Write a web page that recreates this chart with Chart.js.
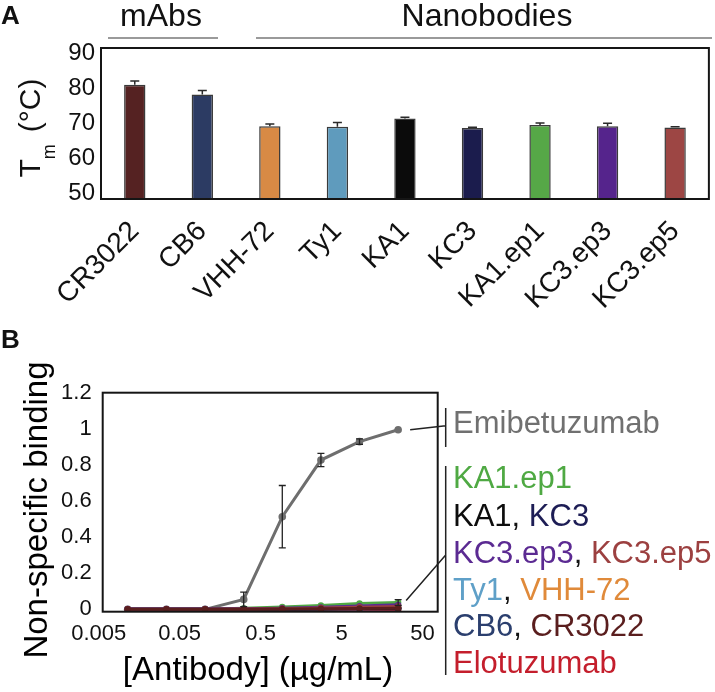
<!DOCTYPE html>
<html>
<head>
<meta charset="utf-8">
<script src="https://cdn.jsdelivr.net/npm/chart.js@4.4.1/dist/chart.umd.min.js"></script>
<style>
  html, body { margin: 0; padding: 0; background: #fff; }
  body { width: 715px; height: 692px; position: relative; overflow: hidden;
         font-family: "Liberation Sans", Arial, sans-serif; color: #111; }
  canvas { position: absolute; left: 0; }
  #chartA { top: 0; }
  #chartB { top: 320px; }
  .txt { position: absolute; white-space: nowrap; line-height: 1; }
  .rule { position: absolute; height: 2px; background: #9a9a9a; }
  .panel { font-weight: bold; font-size: 26px; left: 1px; }
  .group { font-size: 32px; transform: translateX(-50%); }
  .leg { font-size: 31px; left: 453px; }
</style>
</head>
<body>
<canvas id="chartA" width="715" height="320"></canvas>
<canvas id="chartB" width="715" height="372"></canvas>

<div class="txt panel" style="top:2px">A</div>
<div class="txt panel" style="top:326px">B</div>

<div class="txt group" style="left:161px; top:-1px">mAbs</div>
<div class="txt group" style="left:487px; top:-1px">Nanobodies</div>
<div class="rule" style="left:108px; top:37px; width:110px"></div>
<div class="rule" style="left:256px; top:37px; width:456px"></div>

<div class="txt" style="left:30px; top:128px; font-size:30px; transform: translate(-50%,-50%) rotate(-90deg)">T<span style="font-size:18px; position:relative; top:15px">m</span><span style="margin-left:12px">(°C)</span></div>

<div class="txt" style="left:35px; top:510px; font-size:33px; color:#000; transform: translate(-50%,-50%) rotate(-90deg)">Non-specific binding</div>
<div class="txt" style="left:258px; top:652px; font-size:33px; color:#000; transform: translateX(-50%)">[Antibody] (µg/mL)</div>

<div class="txt leg" style="top:407px; color:#707070">Emibetuzumab</div>
<div class="txt leg" style="top:462px"><span style="color:#4fa943">KA1.ep1</span></div>
<div class="txt leg" style="top:500px"><span style="color:#0d0d0d">KA1</span>, <span style="color:#1d1d55">KC3</span></div>
<div class="txt leg" style="top:537px"><span style="color:#5b2a92">KC3.ep3</span>, <span style="color:#9c4040">KC3.ep5</span></div>
<div class="txt leg" style="top:574px"><span style="color:#5fa0c8">Ty1</span>, <span style="color:#e08a3a">VHH-72</span></div>
<div class="txt leg" style="top:610px"><span style="color:#2b3f6e">CB6</span>, <span style="color:#5a1e1e">CR3022</span></div>
<div class="txt leg" style="top:647px; color:#c41e2c">Elotuzumab</div>

<script>
// ---- panel A: melting temperatures ----
const bodies = ['CR3022', 'CB6', 'VHH-72', 'Ty1', 'KA1', 'KC3', 'KA1.ep1', 'KC3.ep3', 'KC3.ep5'];
const tmValues = [80.9, 78.1, 69.05, 68.9, 71.3, 68.6, 69.4, 69.1, 68.7];
const tmErrors = [1.1, 1.2, 0.65, 1.2, 0.3, 0.2, 0.6, 0.8, 0.2];
const barColors = ['#552222', '#2c3b63', '#d88a45', '#5f9bbd', '#0b0b0b', '#1b1c4d', '#56a847', '#55248c', '#9d4644'];
const tmTicks = [50, 60, 70, 80, 90];

// ---- panel B: non-specific binding ----
const conc = [0.0114, 0.0343, 0.103, 0.309, 0.926, 2.78, 8.33, 25];
const emibetuzumab = [0, 0, 0, 0.055, 0.513, 0.827, 0.929, 0.995];
const emibetuzumabErr = [0, 0, 0, 0.04, 0.173, 0.037, 0.015, 0];
const ka1ep1 = [0, 0, 0.001, 0.006, 0.013, 0.022, 0.033, 0.038];
const ka1ep1Err = [0, 0, 0, 0, 0, 0, 0, 0.016];
const kc3ep3 = [0.002, 0.002, 0.002, 0.003, 0.006, 0.011, 0.018, 0.025];
const kc3ep5 = [0.001, 0.001, 0.001, 0.002, 0.004, 0.008, 0.012, 0.016];
const ka1 = [0, 0, 0, 0.001, 0.002, 0.004, 0.006, 0.008];
const kc3 = [0, 0, 0, 0.001, 0.002, 0.003, 0.005, 0.007];
const ty1 = [0, 0, 0, 0.001, 0.002, 0.003, 0.004, 0.005];
const vhh72 = [0, 0, 0, 0.001, 0.002, 0.003, 0.005, 0.006];
const cb6 = [0, 0, 0, 0.001, 0.001, 0.002, 0.003, 0.004];
const cr3022 = [0.001, 0.001, 0.001, 0.001, 0.002, 0.003, 0.005, 0.006];
const elotuzumab = [-0.003, -0.003, -0.003, -0.004, -0.004, -0.005, -0.005, -0.005];
const xTicks = [0.005, 0.05, 0.5, 5, 50];
const yTicks = [0, 0.2, 0.4, 0.6, 0.8, 1, 1.2];

// box round the plot area
const frame = {
  id: 'frame',
  afterDraw(chart) {
    const { ctx, chartArea: a } = chart;
    ctx.save();
    ctx.strokeStyle = '#151515';
    ctx.lineWidth = 2;
    ctx.strokeRect(a.left, a.top, a.right - a.left, a.bottom - a.top);
    ctx.restore();
  }
};

// upper error bars on the bars
const barErrors = {
  id: 'barErrors',
  afterDatasetsDraw(chart) {
    const { ctx, scales: { x, y } } = chart;
    ctx.save();
    ctx.strokeStyle = '#2a2a2a';
    ctx.lineWidth = 1.5;
    tmValues.forEach((v, i) => {
      const px = x.getPixelForValue(i);
      const base = y.getPixelForValue(v);
      const top = y.getPixelForValue(v + tmErrors[i]);
      ctx.beginPath();
      ctx.moveTo(px, base);
      ctx.lineTo(px, top);
      ctx.moveTo(px - 4.5, top);
      ctx.lineTo(px + 4.5, top);
      ctx.stroke();
    });
    ctx.restore();
  }
};

// error bars on the lines (datasets that carry an errors array)
const lineErrors = {
  id: 'lineErrors',
  afterDatasetsDraw(chart) {
    const { ctx, scales: { y } } = chart;
    ctx.save();
    ctx.strokeStyle = '#222';
    ctx.lineWidth = 1.3;
    chart.data.datasets.forEach((ds, di) => {
      if (!ds.errors) return;
      const meta = chart.getDatasetMeta(di);
      ds.errors.forEach((e, i) => {
        if (!e) return;
        const px = meta.data[i].x;
        const v = ds.data[i].y;
        const hi = y.getPixelForValue(v + e);
        const lo = y.getPixelForValue(Math.max(v - e, 0));
        ctx.beginPath();
        ctx.moveTo(px, hi); ctx.lineTo(px, lo);
        ctx.moveTo(px - 3.5, hi); ctx.lineTo(px + 3.5, hi);
        ctx.moveTo(px - 3.5, lo); ctx.lineTo(px + 3.5, lo);
        ctx.stroke();
      });
    });
    ctx.restore();
  }
};

// brackets and pointer lines to the text labels on the right
const pointers = {
  id: 'pointers',
  afterDraw(chart) {
    const { ctx, chartArea: a } = chart;
    const bx = a.right + 8;
    const n = chart.data.datasets.length;
    const top = chart.getDatasetMeta(n - 1).data[7];
    const low = chart.getDatasetMeta(n - 2).data[7];
    ctx.save();
    ctx.strokeStyle = '#222';
    ctx.lineWidth = 1.5;
    ctx.beginPath();
    ctx.moveTo(bx, 88); ctx.lineTo(bx, 127);
    ctx.moveTo(bx, 146); ctx.lineTo(bx, 355);
    ctx.moveTo(top.x + 12, top.y); ctx.lineTo(bx, top.y - 4);
    ctx.moveTo(low.x + 8, low.y - 2); ctx.lineTo(bx, 235);
    ctx.stroke();
    ctx.restore();
  }
};

new Chart(document.getElementById('chartA'), {
  type: 'bar',
  data: {
    labels: bodies,
    datasets: [{
      data: tmValues,
      backgroundColor: barColors,
      borderColor: '#3a3a3a',
      borderWidth: 1.5,
      barPercentage: 0.316,
      categoryPercentage: 1
    }]
  },
  options: {
    responsive: false,
    animation: false,
    layout: { padding: { top: 48, right: 2.3, left: 0, bottom: 0 } },
    plugins: { legend: { display: false }, tooltip: { enabled: false } },
    scales: {
      x: {
        grid: { display: false, drawTicks: false },
        border: { display: false },
        ticks: {
          color: '#111',
          font: { family: 'Liberation Sans', size: 28 },
          minRotation: 45,
          maxRotation: 45,
          autoSkip: false,
          padding: 16
        },
        afterFit: s => { s.height = 121; }
      },
      y: {
        min: 48.3,
        max: 91.4,
        grid: { display: false, drawTicks: false },
        border: { display: false },
        afterBuildTicks: s => { s.ticks = tmTicks.map(v => ({ value: v })); },
        ticks: {
          color: '#111',
          font: { family: 'Liberation Sans', size: 24 },
          padding: 6
        },
        afterFit: s => { s.width = 101; }
      }
    }
  },
  plugins: [barErrors, frame]
});

const pts = arr => arr.map((v, i) => ({ x: conc[i], y: v }));
const line = (data, color, extra) => Object.assign({
  data: pts(data),
  borderColor: color,
  backgroundColor: color,
  borderWidth: 3,
  pointRadius: 3.2,
  pointBorderWidth: 0,
  tension: 0
}, extra || {});

// first dataset is drawn on top
new Chart(document.getElementById('chartB'), {
  type: 'line',
  data: {
    datasets: [
      line(cr3022, '#5a1e1e'),
      line(kc3ep5, '#9c4040'),
      line(kc3ep3, '#5b2a92'),
      line(ka1, '#0d0d0d'),
      line(kc3, '#1d1d55'),
      line(cb6, '#2b3f6e'),
      line(ty1, '#5fa0c8'),
      line(vhh72, '#e08a3a'),
      line(elotuzumab, '#c41e2c'),
      line(ka1ep1, '#4fa943', { errors: ka1ep1Err }),
      line(emibetuzumab, '#6e6e6e', { pointRadius: 3.8, errors: emibetuzumabErr })
    ]
  },
  options: {
    responsive: false,
    animation: false,
    layout: { padding: { top: 72.7, right: 277.3, left: 0, bottom: 0 } },
    plugins: { legend: { display: false }, tooltip: { enabled: false } },
    scales: {
      x: {
        type: 'logarithmic',
        min: 0.0056,
        max: 77,
        grid: { display: false, drawTicks: false },
        border: { display: false },
        afterBuildTicks: s => { s.ticks = xTicks.map(v => ({ value: v })); },
        ticks: {
          color: '#111',
          font: { family: 'Liberation Sans', size: 22 },
          maxRotation: 0,
          autoSkip: false,
          padding: 9,
          callback: v => String(v)
        },
        afterFit: s => { s.height = 80.3; }
      },
      y: {
        min: -0.013,
        max: 1.2,
        grid: { display: false, drawTicks: false },
        border: { display: false },
        afterBuildTicks: s => { s.ticks = yTicks.map(v => ({ value: v })); },
        ticks: {
          color: '#111',
          font: { family: 'Liberation Sans', size: 22 },
          padding: 11,
          callback: v => String(v)
        },
        afterFit: s => { s.width = 102.7; }
      }
    }
  },
  plugins: [lineErrors, frame, pointers]
});
</script>
</body>
</html>
